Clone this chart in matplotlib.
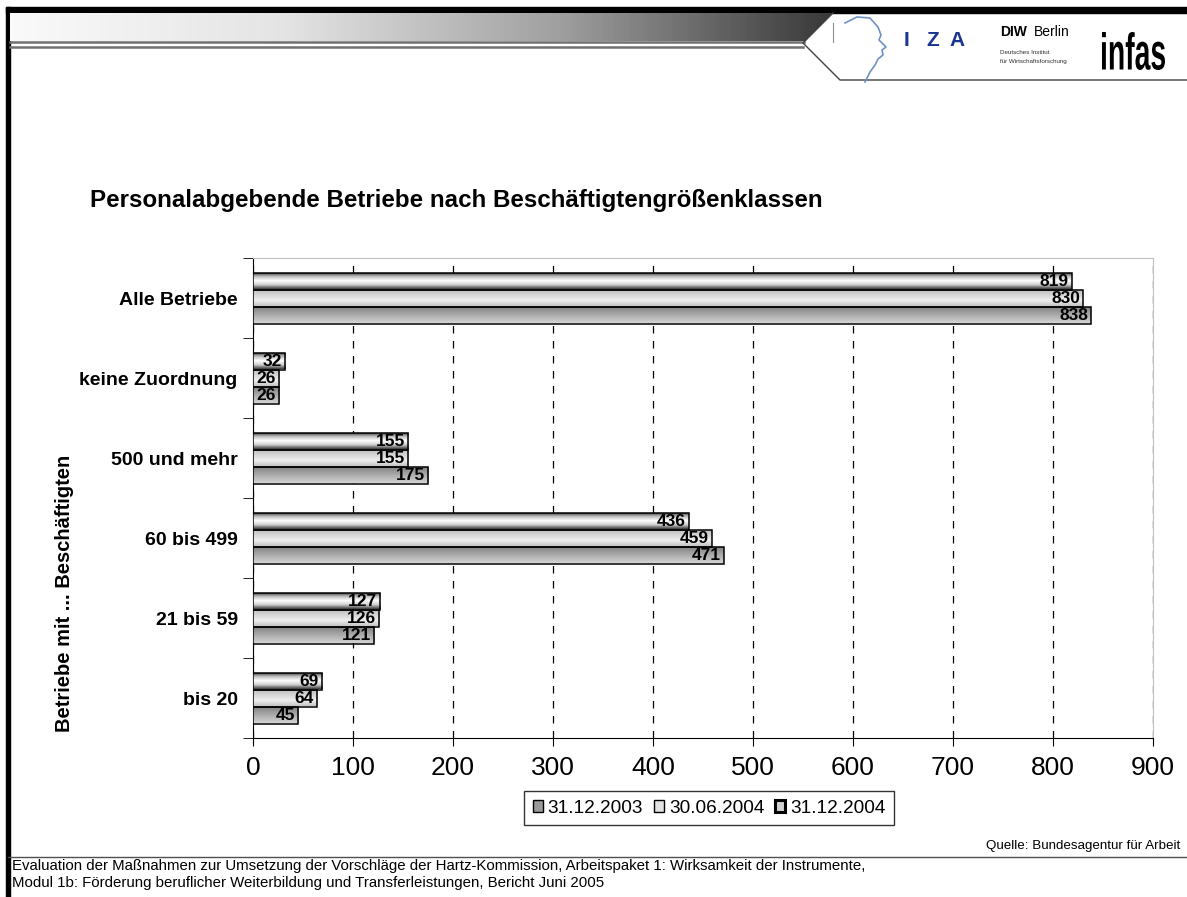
import numpy as np
import matplotlib
matplotlib.use("Agg")
import matplotlib.pyplot as plt
from matplotlib.colors import LinearSegmentedColormap
from matplotlib.patches import Patch, Polygon, PathPatch
from matplotlib.textpath import TextPath
from matplotlib.font_manager import FontProperties
from matplotlib.transforms import Affine2D

plt.rcParams['font.family'] = ['Liberation Sans', 'DejaVu Sans']

# data (bottom to top)
categories = ['bis 20', '21 bis 59', '60 bis 499', '500 und mehr', 'keine Zuordnung', 'Alle Betriebe']
series_names = ['31.12.2003', '30.06.2004', '31.12.2004']
vals_2003 = [45, 121, 471, 175, 26, 838]
vals_2004_06 = [64, 126, 459, 155, 26, 830]
vals_2004_12 = [69, 127, 436, 155, 32, 819]

# gradients top -> bottom for each series
grads = [['#d2d2d2', '#a9a9a9', '#7e7e7e'],
         ['#c4c4c4', '#efefef', '#d4d4d4', '#bcbcbc'],
         ['#3c3c3c', '#cfcfcf', '#ffffff', '#bdbdbd', '#2a2a2a']]
legend_cols = ['#9a9a9a', '#e2e2e2', '#d0d0d0']

W, H = 1187, 897
fig = plt.figure(figsize=(W / 100, H / 100), dpi=100)

# ---- slide decoration (pixel coords) ----
bg = fig.add_axes([0, 0, 1, 1], zorder=0)
bg.set_xlim(0, W)
bg.set_ylim(H, 0)
bg.axis('off')
bg.add_patch(plt.Rectangle((6, 7), W, 6, color='black'))
bg.add_patch(plt.Rectangle((6, 7), 4, H, color='black'))
hgrad = np.linspace(0, 1, 256).reshape(1, -1)
hcmap = LinearSegmentedColormap.from_list('h', ['#fafafa', '#e4e4e4', '#a0a0a0', '#383838'])
band = Polygon([(10, 13), (833, 13), (805, 41), (10, 41)], closed=True, fc='none', ec='none')
bg.add_patch(band)
im = bg.imshow(hgrad, cmap=hcmap, extent=(10, 833, 41, 13), aspect='auto', zorder=1)
im.set_clip_path(band)
bg.plot([10, 804], [42, 42], color='#707070', lw=1.8)
bg.plot([10, 803], [47, 47], color='#707070', lw=1.8)
bg.plot([833, 803, 840, W], [13, 43, 80, 80], color='#404040', lw=1)
bg.plot([833, 833], [23, 42], color='#909090', lw=0.8)
head = [(845, 23), (857, 17), (870, 18), (878, 27), (881, 35), (879, 40), (886, 47),
        (882, 50), (883, 55), (878, 59), (875, 65), (870, 72), (865, 82)]
bg.plot([p[0] for p in head], [p[1] for p in head], color='#6f92c4', lw=1.2)
for lx, ch in zip([904, 926, 949], 'IZA'):
    bg.text(lx, 40, ch, fontsize=15, fontweight='bold', color='#1a3590', va='center')
bg.text(1000, 32, 'DIW', fontsize=10, fontweight='bold', va='center')
bg.text(1034, 32, 'Berlin', fontsize=10, va='center')
bg.text(1000, 53, 'Deutsches Institut', fontsize=4.5, va='center', color='#303030')
bg.text(1000, 61, 'für Wirtschaftsforschung', fontsize=4.5, va='center', color='#303030')
# condensed 'infas' lettering, squeezed into its box
tp = TextPath((0, 0), 'infas', size=10, prop=FontProperties(family='Liberation Sans', weight='bold'))
ext = tp.get_extents()
sx = (1165 - 1102) / ext.width
sy = (70 - 32) / ext.height
tr = Affine2D().translate(-ext.x0, -ext.y0).scale(sx, -sy).translate(1102, 70) + bg.transData
bg.add_patch(PathPatch(tp, fc='black', ec='none', transform=tr))
bg.plot([8, W], [857, 857], color='#505050', lw=1)
bg.text(1180, 846, 'Quelle: Bundesagentur für Arbeit', fontsize=9.6, ha='right', va='center')
bg.text(12, 866, 'Evaluation der Maßnahmen zur Umsetzung der Vorschläge der Hartz-Kommission, '
        'Arbeitspaket 1: Wirksamkeit der Instrumente,', fontsize=10.8, va='center')
bg.text(12, 883, 'Modul 1b: Förderung beruflicher Weiterbildung und Transferleistungen, '
        'Bericht Juni 2005', fontsize=10.8, va='center')

fig.text(90 / W, 1 - 200 / H, 'Personalabgebende Betriebe nach Beschäftigtengrößenklassen',
         fontsize=17.4, fontweight='bold', va='center')
fig.text(65 / W, 1 - 593 / H, 'Betriebe mit ... Beschäftigten', fontsize=14.5,
         fontweight='bold', rotation=90, ha='center', va='center')

# ---- chart ----
ax = fig.add_axes([253 / W, 1 - 738 / H, 900 / W, 480 / H], zorder=1)
ax.patch.set_alpha(0)
y = np.arange(len(categories))
h = 0.2125
offsets = [-h, 0, h]
all_vals = [vals_2003, vals_2004_06, vals_2004_12]
for vals, off, g in zip(all_vals, offsets, grads):
    cmap = LinearSegmentedColormap.from_list('g', g)
    bars = ax.barh(y + off, vals, height=h, facecolor='none', edgecolor='black', lw=1.1, zorder=4)
    for b, v in zip(bars, vals):
        x0, y0 = b.get_x(), b.get_y()
        im = ax.imshow(np.linspace(0, 1, 64).reshape(-1, 1), cmap=cmap, aspect='auto',
                       extent=(x0, x0 + b.get_width(), y0 + b.get_height(), y0),
                       origin='upper', zorder=3)
        im.set_clip_path(b)
        ax.text(v - 3, y0 + b.get_height() / 2, str(v), ha='right', va='center',
                fontsize=12.5, fontweight='bold', zorder=5)

ax.set_xlim(0, 900)
ax.set_ylim(-0.5, len(categories) - 0.5)
ax.set_xticks(np.arange(0, 1000, 100))
ax.tick_params(axis='x', labelsize=19, length=6, pad=7)
ax.set_yticks(y)
ax.set_yticklabels(categories, fontsize=14, fontweight='bold')
ax.tick_params(axis='y', length=0, pad=11)
ax.set_yticks(np.arange(-0.5, len(categories), 1), minor=True)
ax.tick_params(axis='y', which='minor', length=7)
ax.xaxis.grid(True, color='black', linestyle=(0, (6, 6)), lw=0.9)
ax.set_axisbelow(True)
for s in ['top', 'right']:
    ax.spines[s].set_color('#c0c0c0')
for s in ['left', 'bottom']:
    ax.spines[s].set_color('black')

handles = [Patch(facecolor=c, edgecolor='black', lw=1) for c in legend_cols]
handles[2] = Patch(facecolor=legend_cols[2], edgecolor='black', lw=2.2)
leg = fig.legend(handles, series_names, loc='center', bbox_to_anchor=(709 / W, 1 - 808 / H),
                 ncol=3, fontsize=13.7, frameon=True, fancybox=False, handlelength=0.55,
                 handleheight=0.6, handletextpad=0.25, columnspacing=0.55, borderpad=0.45,
                 borderaxespad=0)
leg.get_frame().set_edgecolor('black')
leg.get_frame().set_linewidth(1)

fig.savefig('out.png', dpi=100)
